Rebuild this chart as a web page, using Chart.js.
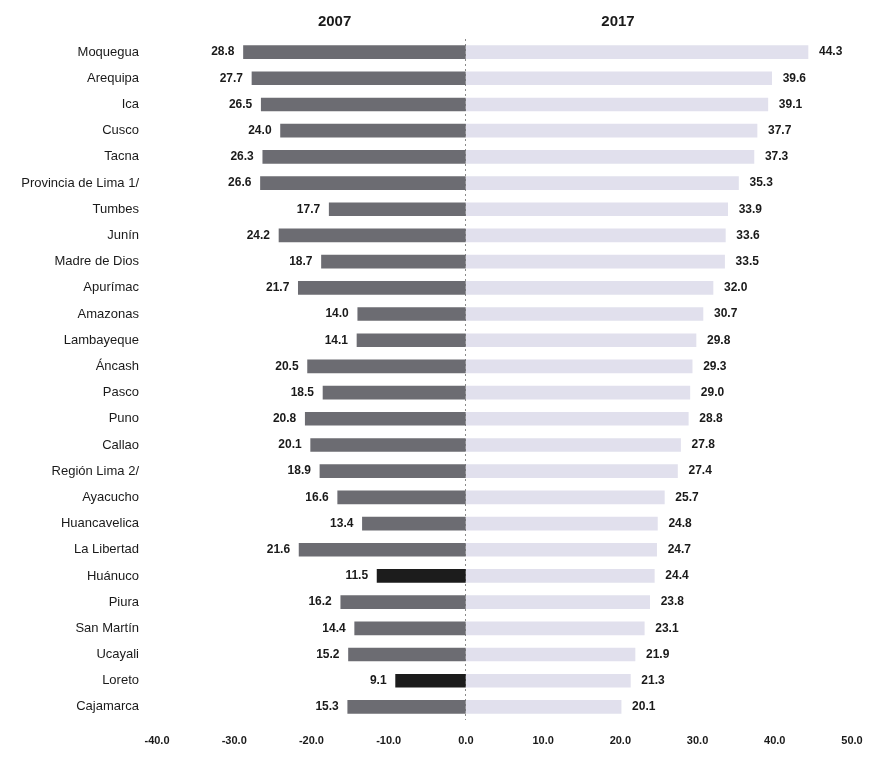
<!DOCTYPE html>
<html>
<head>
<meta charset="utf-8">
<script src="https://cdn.jsdelivr.net/npm/chart.js@4"></script>
<style>
  body { margin: 0; background: #fff; }
  #wrap { width: 869px; height: 760px; }
</style>
</head>
<body>
<div id="wrap"><canvas id="chart"></canvas></div>
<script>
// regions, top to bottom
const regions = [
  'Moquegua', 'Arequipa', 'Ica', 'Cusco', 'Tacna', 'Provincia de Lima 1/',
  'Tumbes', 'Junín', 'Madre de Dios', 'Apurímac', 'Amazonas', 'Lambayeque',
  'Áncash', 'Pasco', 'Puno', 'Callao', 'Región Lima 2/', 'Ayacucho',
  'Huancavelica', 'La Libertad', 'Huánuco', 'Piura', 'San Martín', 'Ucayali',
  'Loreto', 'Cajamarca'
];

// values as printed in the picture
const values2007 = [
  28.8, 27.7, 26.5, 24.0, 26.3, 26.6,
  17.7, 24.2, 18.7, 21.7, 14.0, 14.1,
  20.5, 18.5, 20.8, 20.1, 18.9, 16.6,
  13.4, 21.6, 11.5, 16.2, 14.4, 15.2,
  9.1, 15.3
];
const values2017 = [
  44.3, 39.6, 39.1, 37.7, 37.3, 35.3,
  33.9, 33.6, 33.5, 32.0, 30.7, 29.8,
  29.3, 29.0, 28.8, 27.8, 27.4, 25.7,
  24.8, 24.7, 24.4, 23.8, 23.1, 21.9,
  21.3, 20.1
];

// regions whose 2007 bar is printed in black
const darkRegions = ['Huánuco', 'Loreto'];

const xTicks = [-40, -30, -20, -10, 0, 10, 20, 30, 40, 50];

const FONT = '"Liberation Sans", Arial, sans-serif';

// value labels at bar ends + year headers
const labelPlugin = {
  id: 'labels',
  afterDatasetsDraw(chart) {
    const ctx = chart.ctx;
    const x = chart.scales.x;
    ctx.save();
    ctx.fillStyle = '#1a1a1a';
    ctx.font = 'bold 12px ' + FONT;
    ctx.textBaseline = 'middle';
    chart.getDatasetMeta(0).data.forEach((bar, i) => {
      ctx.textAlign = 'right';
      ctx.fillText(values2007[i].toFixed(1), bar.x - 9, bar.y);
    });
    chart.getDatasetMeta(1).data.forEach((bar, i) => {
      ctx.textAlign = 'left';
      ctx.fillText(values2017[i].toFixed(1), bar.x + 11, bar.y);
    });
    ctx.font = 'bold 15px ' + FONT;
    ctx.textAlign = 'center';
    ctx.fillText('2007', x.getPixelForValue(-17), 22);
    ctx.fillText('2017', x.getPixelForValue(19.7), 22);
    ctx.restore();
  }
};

new Chart(document.getElementById('chart'), {
  type: 'bar',
  data: {
    labels: regions,
    datasets: [{
      label: '2007',
      data: values2007.map(v => -v),
      backgroundColor: regions.map(r => darkRegions.includes(r) ? '#1c1c1c' : '#6c6c72'),
      barThickness: 13
    }, {
      label: '2017',
      data: values2017,
      backgroundColor: '#e1e0ed',
      barThickness: 13
    }]
  },
  options: {
    indexAxis: 'y',
    responsive: true,
    maintainAspectRatio: false,
    animation: false,
    layout: { padding: { top: 39, right: 17, bottom: 0, left: 0 } },
    plugins: {
      legend: { display: false },
      tooltip: { enabled: false }
    },
    scales: {
      x: {
        stacked: true,
        min: -40,
        max: 50,
        afterBuildTicks: s => { s.ticks = xTicks.map(v => ({ value: v })); },
        afterFit: s => { s.height = 40; s.paddingLeft = 0; s.paddingRight = 0; },
        ticks: {
          padding: 14,
          color: '#1a1a1a',
          font: { family: FONT, size: 11, weight: 'bold' },
          callback: v => Number(v).toFixed(1)
        },
        grid: {
          drawTicks: false,
          color: c => c.tick && c.tick.value === 0 ? '#8a8a8a' : 'transparent'
        },
        border: { display: false, dash: [2, 3] }
      },
      y: {
        stacked: true,
        afterFit: s => { s.width = 157; },
        ticks: {
          padding: 10,
          color: '#1a1a1a',
          font: { family: FONT, size: 13 }
        },
        grid: { display: false },
        border: { display: false }
      }
    }
  },
  plugins: [labelPlugin]
});
</script>
</body>
</html>
